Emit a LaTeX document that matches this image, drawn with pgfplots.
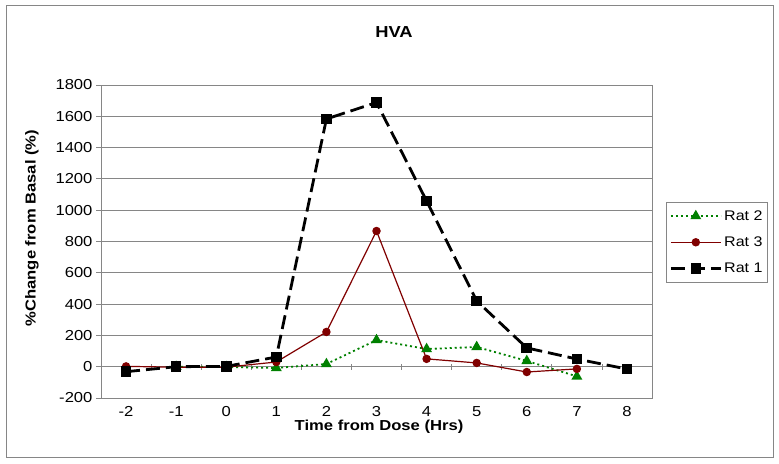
\documentclass[border=0pt]{standalone}
\usepackage{fontspec}
\setmainfont{Liberation Sans}[FakeStretch=1.15]
\usepackage{pgfplots}
\pgfplotsset{compat=1.18}
\definecolor{ratgreen}{RGB}{0,128,0}
\definecolor{ratred}{RGB}{128,0,0}
\definecolor{axgray}{RGB}{134,134,134}
\begin{document}
\begin{tikzpicture}[x=1bp,y=1bp]
\useasboundingbox (0,0) rectangle (779,464);
\draw[axgray, line width=0.8bp] (6,7) rectangle (773,459);
\node[font=\fontsize{16}{18}\selectfont\bfseries] at (394,431.5) {HVA};
\node[font=\fontsize{14.5}{17}\selectfont\bfseries, rotate=90] at (32,236) {\%Change from Basal (\%)};
\node[font=\fontsize{14.5}{17}\selectfont\bfseries] at (379,37) {Time from Dose (Hrs)};
\begin{axis}[
  at={(101bp,66bp)}, anchor=south west,
  width=551bp, height=313bp, scale only axis,
  xmin=-2.5, xmax=8.5, ymin=-200, ymax=1800,
  xtick={-2,-1,0,1,2,3,4,5,6,7,8},
  ytick={-200,0,200,400,600,800,1000,1200,1400,1600,1800},
  /pgf/number format/1000 sep={},
  /pgf/number format/assume math mode=true,
  tick label style={font=\fontsize{14.5}{16}\selectfont},
  major x tick style={draw=none},
  ymajorgrids,
  grid style={axgray, line width=0.8bp},
  axis line style={axgray, line width=0.8bp},
  tick style={axgray, line width=0.8bp},
  tick align=outside, major tick length=5bp,
  tick pos=left,
  clip=false,
  legend style={at={(1.0254,0.626)}, anchor=north west, draw=axgray, line width=0.8bp,
    font=\fontsize{14}{16}\selectfont, row sep=11bp, inner xsep=3bp, inner ysep=6bp,
    cells={anchor=west}},
  legend image code/.code={\draw[mark repeat=2, mark phase=2, #1] plot coordinates {(0bp,0bp) (25bp,0bp) (50bp,0bp)};},
]
\draw[axgray, line width=0.8bp] (axis cs:-2.5,0) -- (axis cs:8.5,0);
\pgfplotsinvokeforeach{-1.5,-0.5,0.5,1.5,2.5,3.5,4.5,5.5,6.5,7.5}{
  \draw[axgray, line width=0.8bp] ([yshift=-3bp]axis cs:#1,0) -- ([yshift=3bp]axis cs:#1,0);
}
\addplot[ratgreen, line width=1.8bp, dash pattern=on 2bp off 3bp, mark=triangle*, mark size=4.5bp, mark options={solid}]
  coordinates {(-1,0) (0,-2) (1,-8) (2,17) (3,170) (4,113) (5,126) (6,37) (7,-62)};
\addlegendentry{Rat 2}
\addplot[ratred, line width=1.2bp, mark=*, mark size=3.6bp, mark options={solid}]
  coordinates {(-2,2) (-1,-3) (0,-3) (1,30) (2,222) (3,867) (4,50) (5,24) (6,-34) (7,-14)};
\addlegendentry{Rat 3}
\addplot[black, line width=2.8bp, dash pattern=on 14bp off 6bp, mark=square*, mark size=3.9bp, mark options={solid}]
  coordinates {(-2,-32) (-1,0) (0,2) (1,62) (2,1583) (3,1688) (4,1059) (5,420) (6,120) (7,49) (8,-15)};
\addlegendentry{Rat 1}
\end{axis}
\end{tikzpicture}
\end{document}
